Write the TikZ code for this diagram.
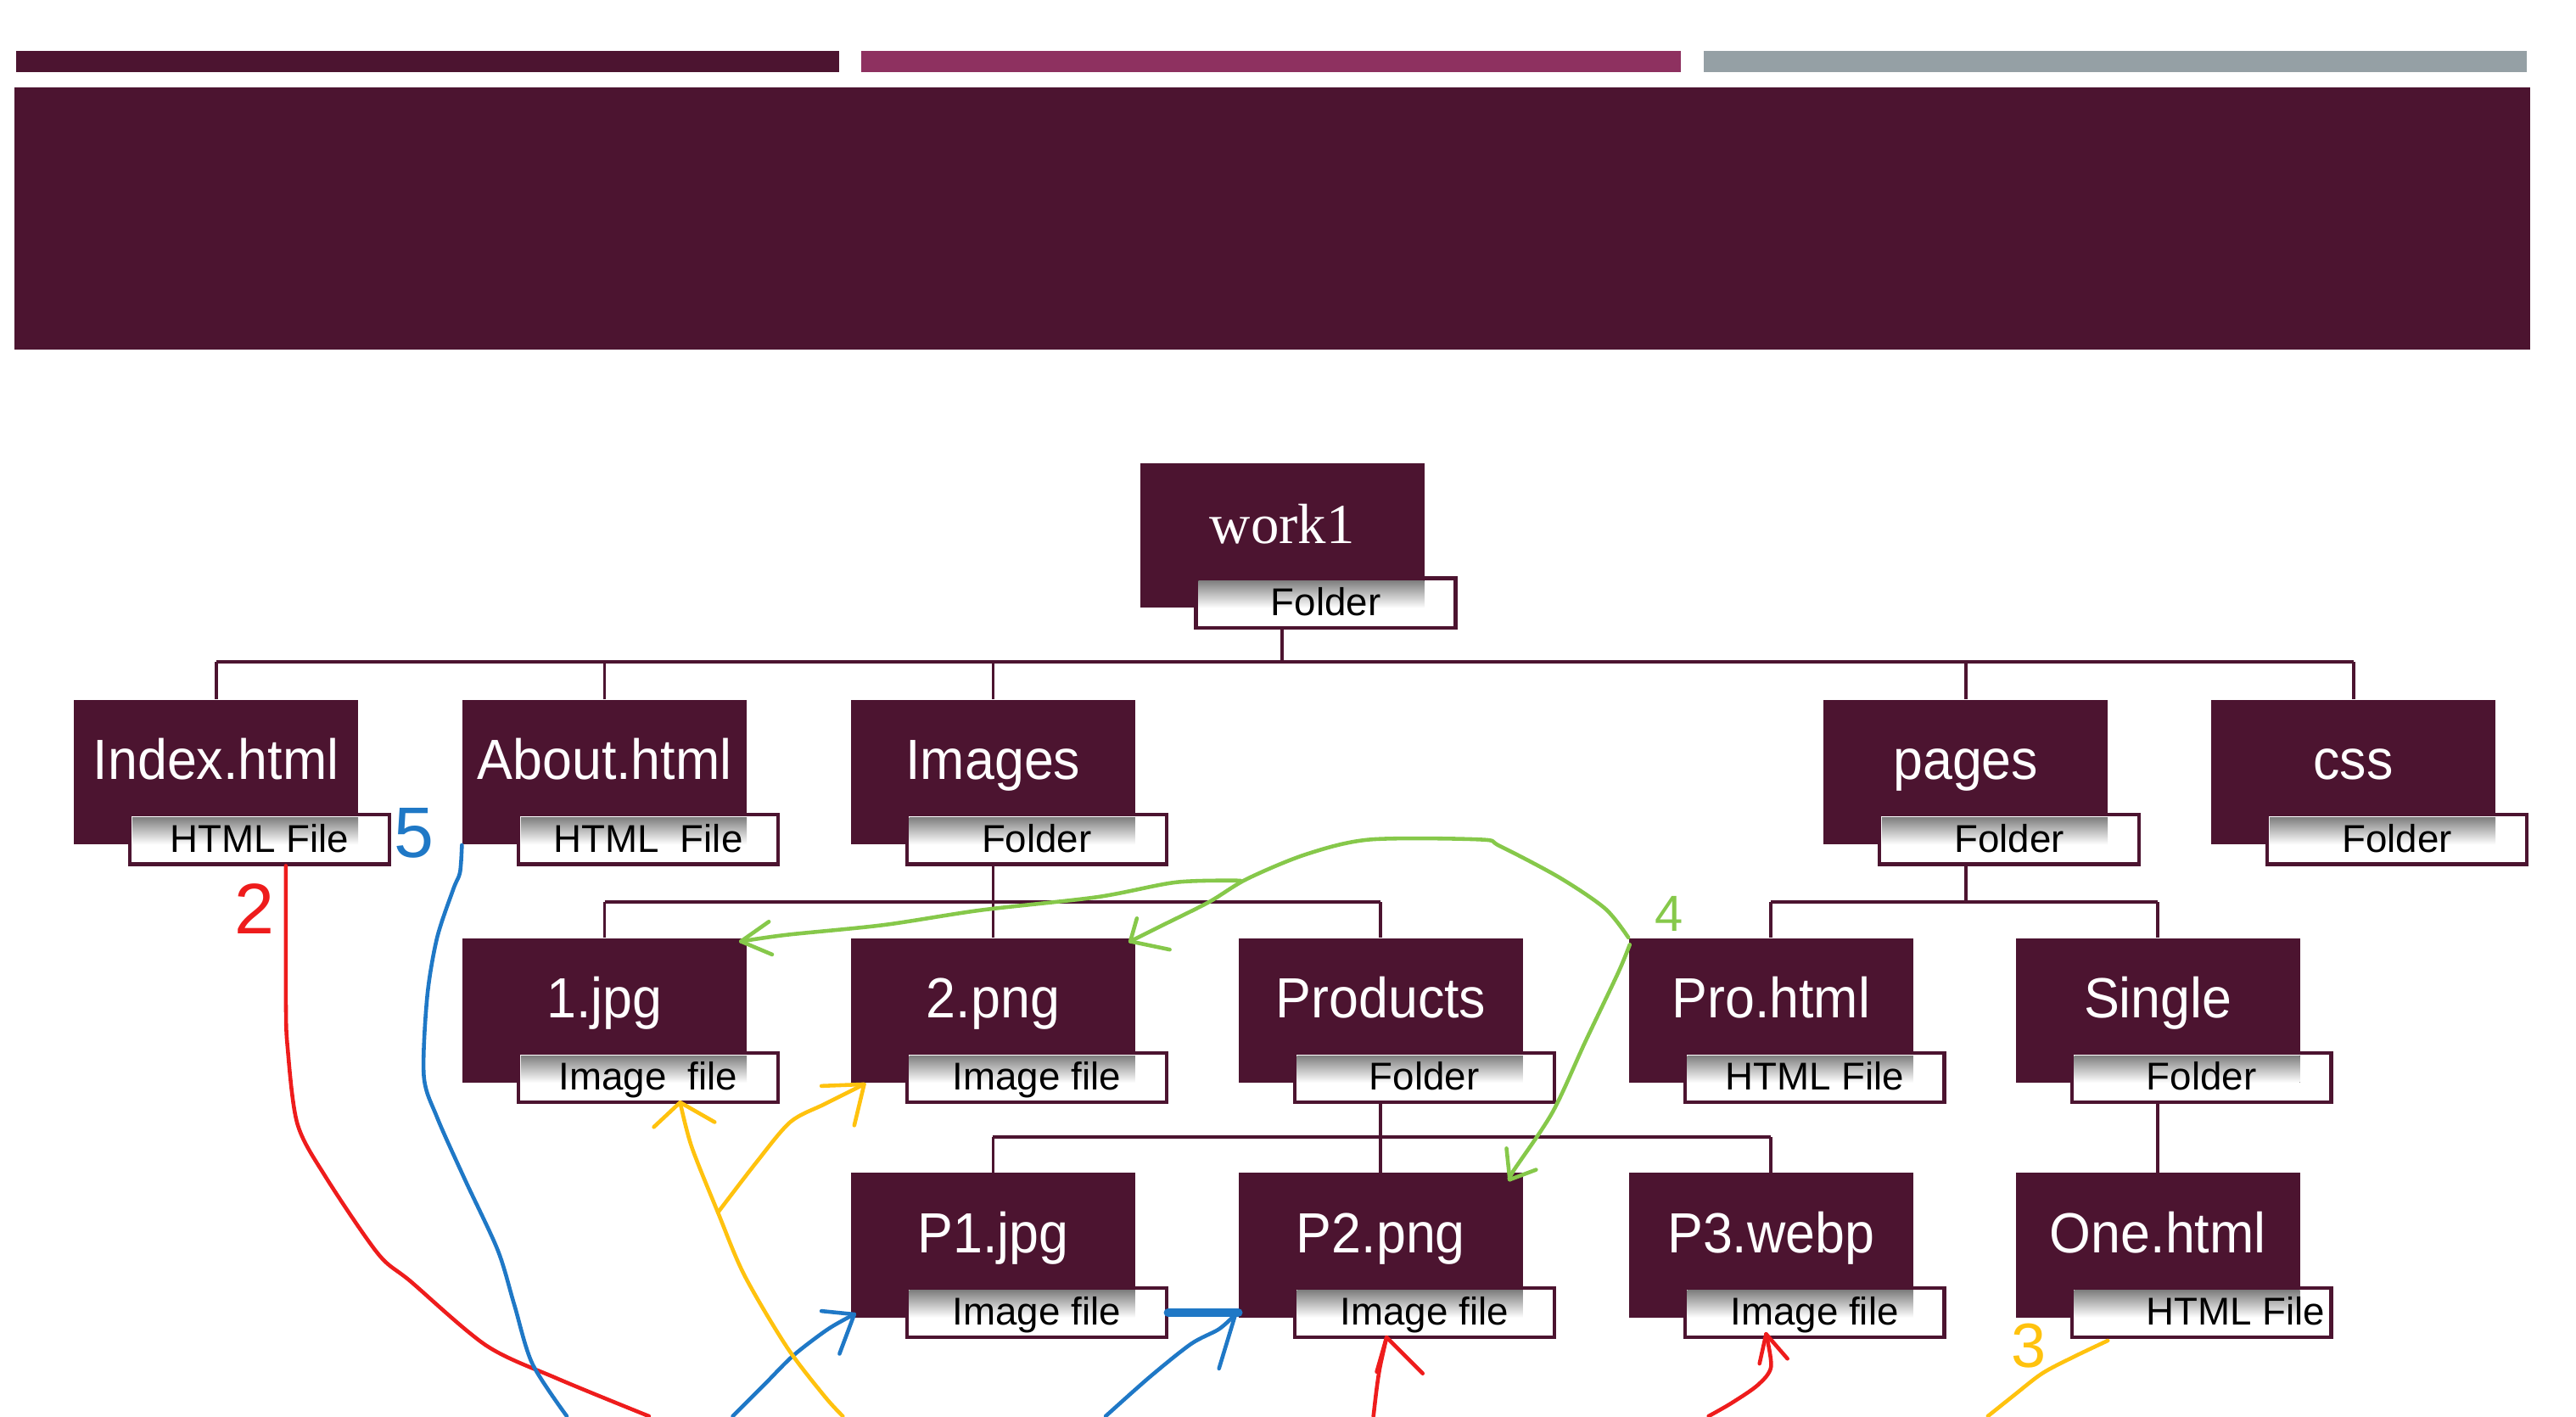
\documentclass[tikz,border=0pt]{standalone}
\usepackage{fontspec}
\setmainfont{Liberation Sans}
\newfontfamily\serifw{Liberation Serif}
\definecolor{plum}{HTML}{4C1430}
\definecolor{berry}{HTML}{8E3160}
\definecolor{slate}{HTML}{95A0A5}
\definecolor{shade}{HTML}{EBE8EB}
\definecolor{inkred}{HTML}{EE1C1C}
\definecolor{inkblue}{HTML}{1F78C6}
\definecolor{inkyellow}{HTML}{FFC20E}
\definecolor{inkgreen}{HTML}{86C84A}
\tikzset{
  dbox/.style={fill=plum,minimum width=3.349cm,minimum height=1.704cm,inner sep=0pt},
  lbox/.style={draw=plum,line width=1.2pt,fill=white,minimum width=3.059cm,minimum height=0.581cm,inner sep=0pt},
  ttl/.style={anchor=base,text=white,inner sep=0pt,font=\fontsize{19}{19}\selectfont},
  kind/.style={anchor=base,inner sep=0pt,font=\fontsize{13}{13}\selectfont},
  tree/.style={draw=plum,line width=1.1pt},
  ink/.style={line width=1.3pt,line cap=round,line join=round},
  hand/.style={inner sep=0pt,font=\fontsize{24}{24}\selectfont}
}
% #1 name, #2 centre x, #3 top y, #4 title, #5 kind
\newcommand\filebox[5]{%
  \node[dbox] (#1) at (#2,#3+44) {};
  \node[ttl] (#1-t) at (#2,#3+48.6) {\scalebox{0.94}[1]{#4}};
  \node[lbox] (#1-l) at (#2+26.5,#3+85) {};
  \fill[shade] (#2-51,#3+71.5) rectangle (#2+86.5,#3+88);
  \node[kind] (#1-k) at (#2+26.5,#3+92.6) {#5};
}
\begin{document}
\begin{tikzpicture}[x=0.01936cm,y=-0.01936cm]
\useasboundingbox (0,0) rectangle (1568,862);
\fill[plum] (10,31) rectangle (511,44);
\fill[berry] (524,31) rectangle (1023,44);
\fill[slate] (1037,31) rectangle (1538,44);
\fill[plum] (9,53) rectangle (1540,213);

\filebox{w}{780.5}{282}{\serifw\scalebox{1.064}[1]{work1}}{Folder}
\filebox{idx}{131.5}{426}{Index.html}{HTML File}
\filebox{abt}{368}{426}{About.html}{HTML~~File}
\filebox{img}{604.5}{426}{Images}{Folder}
\filebox{pag}{1196.5}{426}{pages}{Folder}
\filebox{css}{1432.5}{426}{css}{Folder}
\filebox{n1}{368}{571}{1.jpg}{Image~~file}
\filebox{n2}{604.5}{571}{2.png}{Image file}
\filebox{prod}{840.5}{571}{Products}{Folder}
\filebox{pro}{1078}{571}{Pro.html}{HTML File}
\filebox{sgl}{1313.5}{571}{Single}{Folder}
\filebox{p1}{604.5}{714}{P1.jpg}{Image file}
\filebox{p2}{840.5}{714}{P2.png}{Image file}
\filebox{p3}{1078}{714}{P3.webp}{Image file}
\filebox{one}{1313.5}{714}{One.html}{\hspace*{0.8cm}HTML File}

\coordinate (j0) at (781,403);
\coordinate (j1) at (604,549);
\coordinate (j2) at (1196,549);
\coordinate (j3) at (841,692);
\draw[tree] (w.south|-w-l.south) -- (w.south|-j0);
\draw[tree] (idx.north|-j0) -- (css.north|-j0);
\foreach \n in {idx,abt,img,pag,css} \draw[tree] (\n.north) -- (\n.north|-j0);
\draw[tree] (img.south|-img-l.south) -- (img.south|-j1);
\draw[tree] (n1.north|-j1) -- (prod.north|-j1);
\foreach \n in {n1,n2,prod} \draw[tree] (\n.north) -- (\n.north|-j1);
\draw[tree] (pag.south|-pag-l.south) -- (pag.south|-j2);
\draw[tree] (pro.north|-j2) -- (sgl.north|-j2);
\foreach \n in {pro,sgl} \draw[tree] (\n.north) -- (\n.north|-j2);
\draw[tree] (prod.south|-prod-l.south) -- (prod.south|-j3);
\draw[tree] (p1.north|-j3) -- (p3.north|-j3);
\foreach \n in {p1,p2,p3} \draw[tree] (\n.north) -- (\n.north|-j3);
\draw[tree] (sgl.south|-sgl-l.south) -- (one.north);

% hand notes
\draw[ink,inkred] plot[smooth] coordinates {(174,527) (174,608) (175,637) (181,684) (198,716) (230,763) (250,780) (296,819) (339,839) (395,862)};
\node[hand,text=inkred] (d2) at (155,553) {2};
\draw[ink,inkred] plot[smooth] coordinates {(836,862) (838,845) (840,832) (844,814)};
\draw[ink,inkred] (838,835) -- (844,814) -- (866,836);
\draw[ink,inkred] plot[smooth] coordinates {(1040,862) (1054,854) (1070,843) (1078,832) (1075,812)};
\draw[ink,inkred] (1071,830) -- (1075,812) -- (1088,827);

\draw[ink,inkblue] plot[smooth] coordinates {(abt.south west) (280,531) (276,541) (266,571) (260,607) (258,655) (266,680) (283,718) (303,761) (313,794) (324,830) (345,862)};
\node[hand,text=inkblue] (d5) at (252,507) {5};
\draw[ink,inkblue] plot[smooth] coordinates {(446,862) (466,842) (483,825) (504,809) (520,800)};
\draw[ink,inkblue] (500,798) -- (520,800) -- (511,824);
\draw[ink,inkblue] plot[smooth] coordinates {(673,862) (700,838) (725,818) (742,809) (752,800)};
\draw[ink,inkblue] (742,833) -- (752,800);
\draw[ink,inkblue,line width=3pt] (p1-l.east) -- (p2.west|-p1-l.east);

\draw[ink,inkyellow] plot[smooth] coordinates {(513,862) (502,850) (479,820) (453,776) (437,738) (421,698) (414,671)};
\draw[ink,inkyellow] (398,686) -- (414,671) -- (435,683);
\draw[ink,inkyellow] plot[smooth] coordinates {(437,738) (460,708) (481,683) (502,672) (526,660)};
\draw[ink,inkyellow] (500,661) -- (526,660) -- (520,685);
\draw[ink,inkyellow] plot[smooth] coordinates {(1283,816) (1262,826) (1243,836) (1225,850) (1210,862)};
\node[hand,text=inkyellow,font=\fontsize{21}{21}\selectfont] (d3) at (1235,819) {3};

\draw[ink,inkgreen] plot[smooth] coordinates {(pro.north west) (977,553) (949,534) (913,515) (901,511) (834,511) (795,520) (759,535) (736,549) (708,563) (688,573)};
\draw[ink,inkgreen] (692,559) -- (688,573) -- (712,578);
\draw[ink,inkgreen] plot[smooth] coordinates {(755,536) (716,537) (668,546) (597,554) (538,563) (479,569) (451,573)};
\draw[ink,inkgreen] (468,561) -- (451,573) -- (470,581);
\draw[ink,inkgreen] plot[smooth] coordinates {(992,575) (985,592) (965,634) (945,677) (921,713) (919,718)};
\draw[ink,inkgreen] (917,699) -- (919,718) -- (935,712);
\node[hand,text=inkgreen,font=\fontsize{17}{17}\selectfont] (d4) at (1016,556) {4};
\end{tikzpicture}
\end{document}
